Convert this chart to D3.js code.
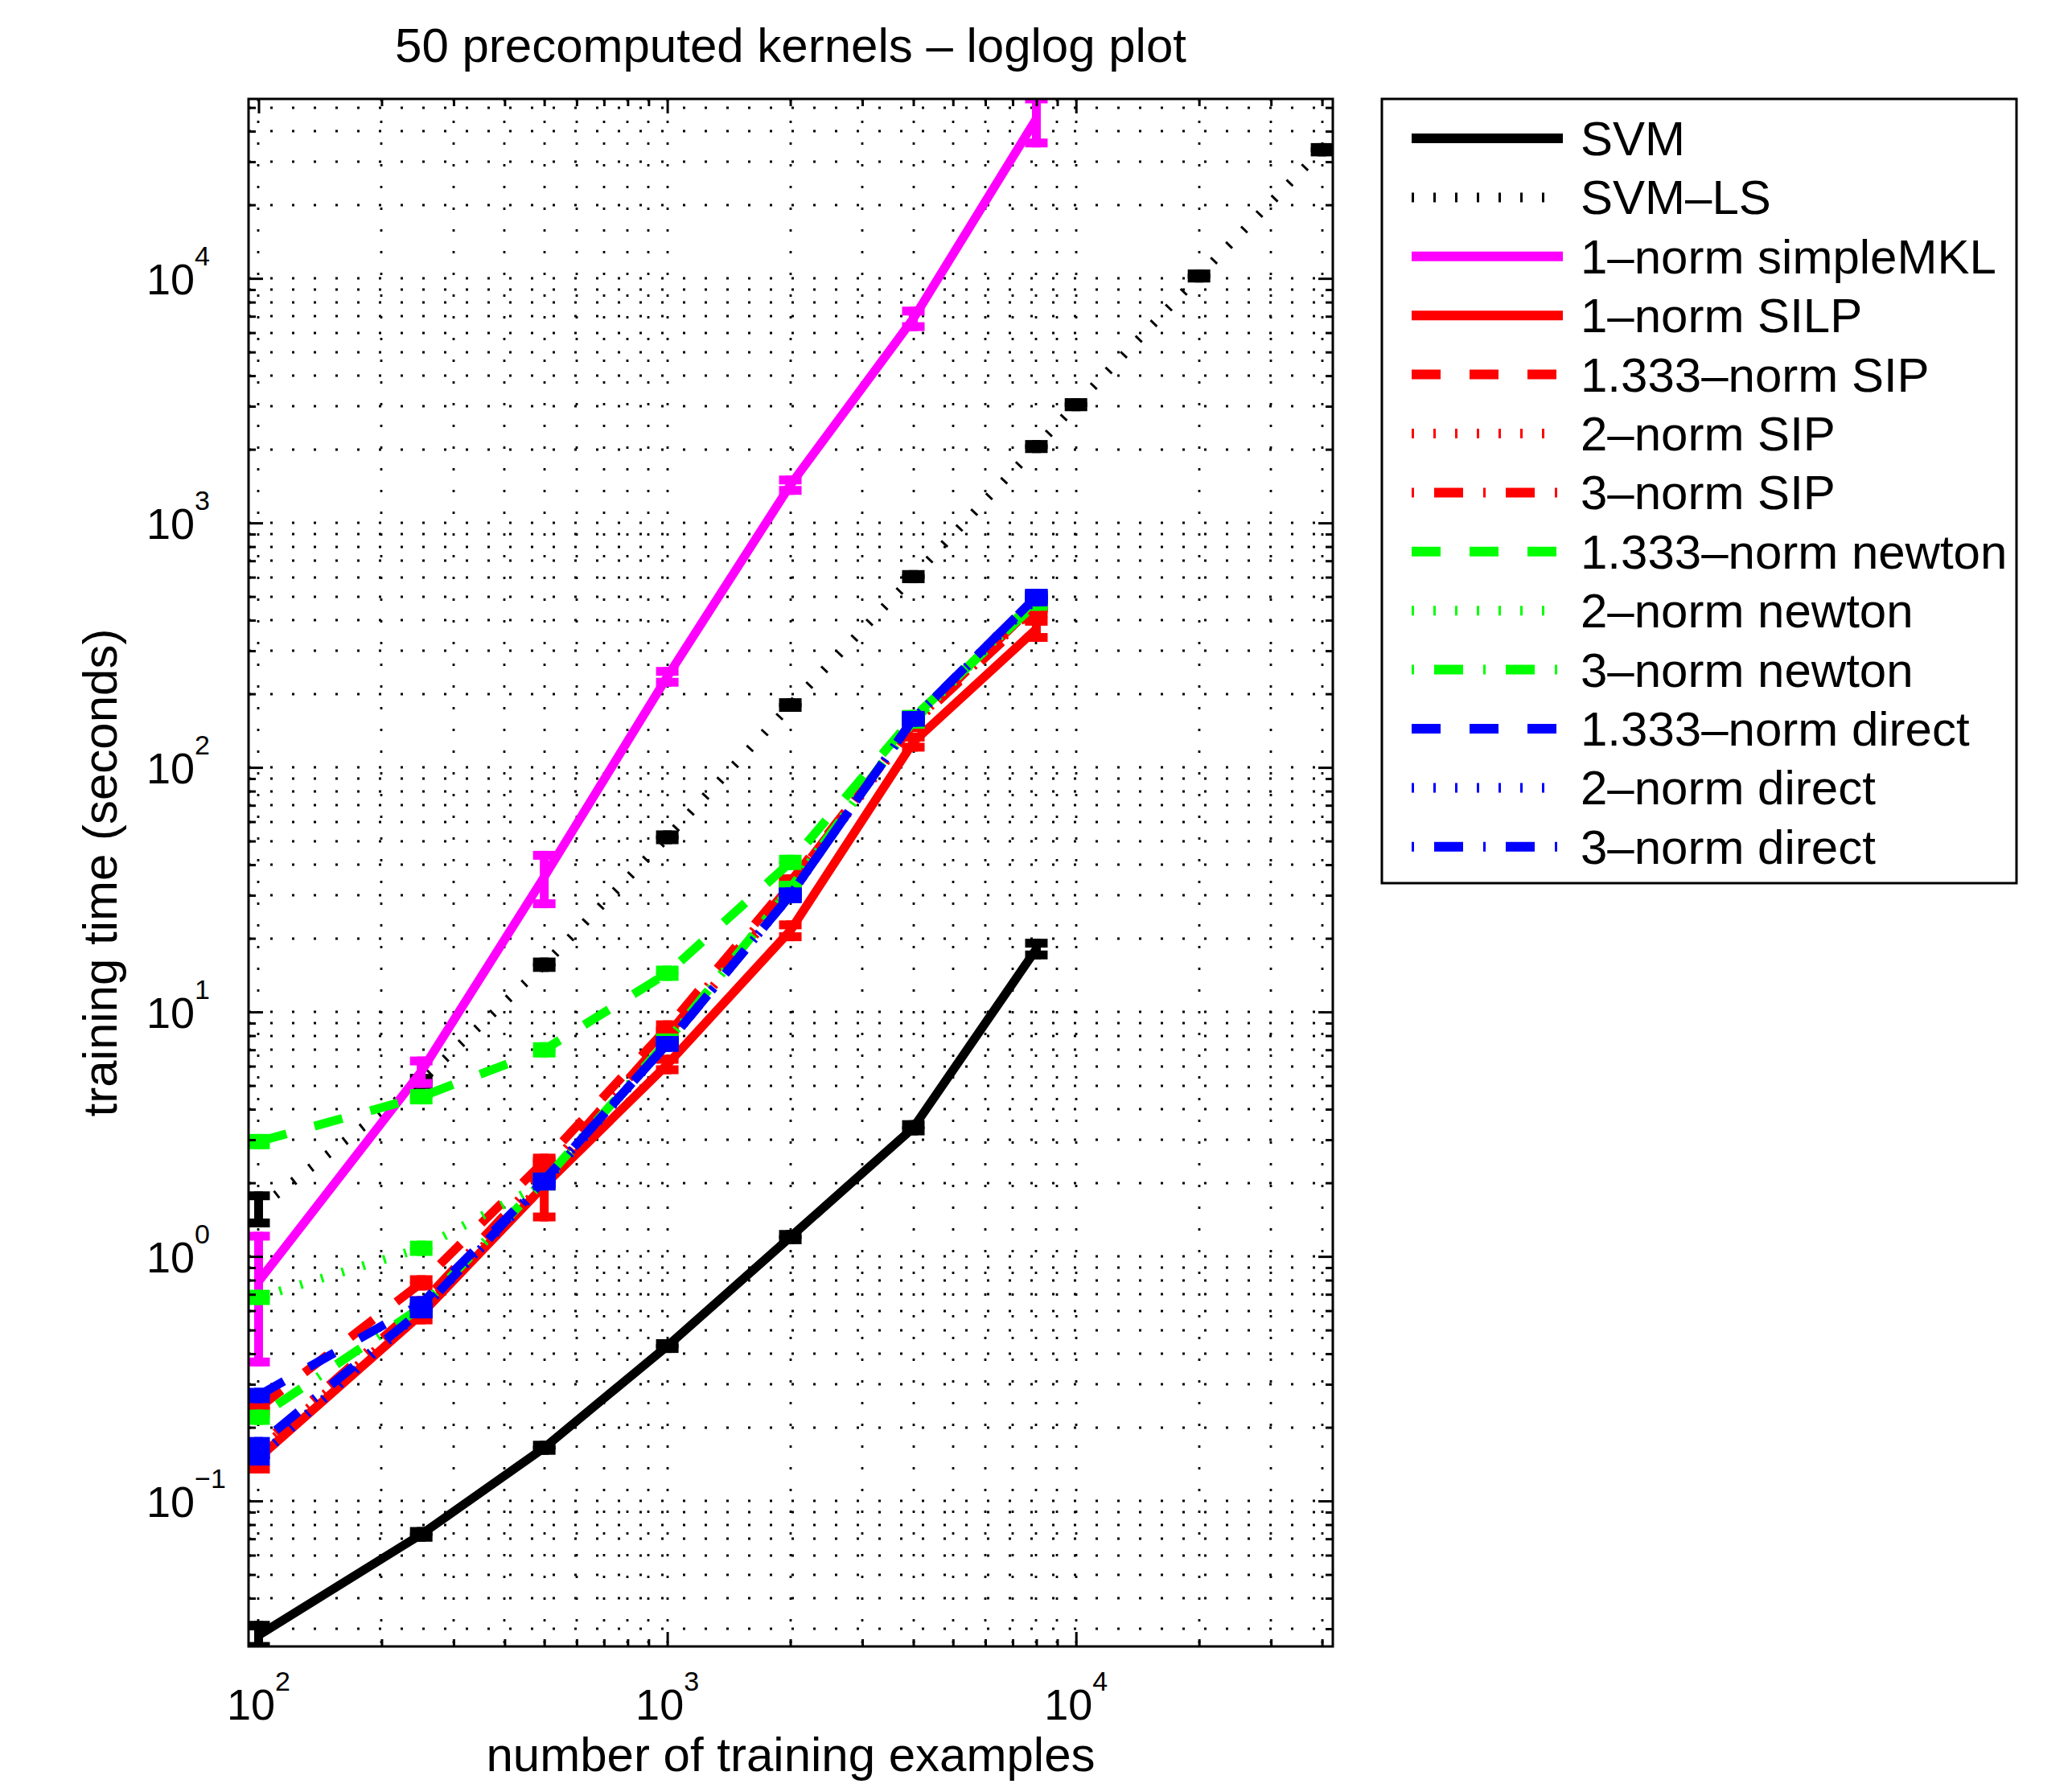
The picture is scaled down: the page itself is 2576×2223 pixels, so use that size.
<!DOCTYPE html>
<html>
<head>
<meta charset="utf-8">
<script src="https://cdn.jsdelivr.net/npm/d3@7"></script>
<style>
  body { margin: 0; background: #fff; }
  text { font-family: "Liberation Sans", Arial, Helvetica, sans-serif; fill: #000; }
</style>
</head>
<body>
<div id="chart"></div>
<script>
// training set sizes
var sizes = [100, 250, 500, 1000, 2000, 4000, 8000];
var sizesLS = [100, 250, 500, 1000, 2000, 4000, 8000, 10000, 20000, 40000];

// training times (seconds) and error bar half-lengths
var svm = [0.0282, 0.073, 0.165, 0.43, 1.2, 3.36, 18.1];
var svmErr = [0.0028, 0.002, 0.004, 0.01, 0.03, 0.1, 1.0];
var svmLS = [1.57, 5.2, 15.6, 51.8, 180, 603, 2053, 3045, 10230, 33600];
var svmLSErr = [0.2, 0.15, 0.4, 1.2, 4, 12, 40, 60, 200, 700];
var simpleMKL = [0.79, 5.7, 35.7, 235, 1428, 6850, 45000];
var simpleMKLErr = [0.42, 0.6, 8, 12, 70, 500, 9200];
var silp = [0.15, 0.58, 1.95, 6.1, 21.5, 127, 368];
var silpErr = [0.015, 0.03, 0.5, 0.3, 1.2, 6, 28];
var sip133 = [0.24, 0.78, 2.45, 8.6, 34, 150, 440];
var sip2 = [0.16, 0.6, 2.0, 7.5, 31, 150, 460];
var sip3 = [0.165, 0.64, 2.2, 8.0, 33, 152, 470];
var newton133 = [2.95, 4.5, 7.0, 14.4, 40.9, 160, 470];
var newton2 = [0.68, 1.08, 2.0, 7.5, 32, 155, 480];
var newton3 = [0.22, 0.62, 2.05, 7.6, 32, 155, 490];
var direct133 = [0.27, 0.64, 2.05, 7.4, 30, 158, 500];
var direct2 = [0.15, 0.6, 2.0, 7.4, 30, 158, 490];
var direct3 = [0.17, 0.6, 2.05, 7.4, 30, 158, 500];
var relErr = 0.03; // small spread on the MKL variants

var names = ["SVM", "SVM\u2013LS", "1\u2013norm simpleMKL", "1\u2013norm SILP",
  "1.333\u2013norm SIP", "2\u2013norm SIP", "3\u2013norm SIP",
  "1.333\u2013norm newton", "2\u2013norm newton", "3\u2013norm newton",
  "1.333\u2013norm direct", "2\u2013norm direct", "3\u2013norm direct"];

var xLim = [94.5, 42500];
var yLim = [0.0254, 54200];
var title = "50 precomputed kernels \u2013 loglog plot";
var xLabel = "number of training examples";
var yLabel = "training time (seconds)";

// line styles
var SOLID = null, DASH = "36,36", DOT = "3,24", DASHDOT = "3,25,36,25";
function rel(v) { return v.map(function(d) { return d * relErr; }); }

var series = [
  { name: names[0], color: "#000000", dash: SOLID, xs: sizes, ys: svm, err: svmErr },
  { name: names[1], color: "#000000", dash: DOT, xs: sizesLS, ys: svmLS, err: svmLSErr },
  { name: names[2], color: "#ff00ff", dash: SOLID, xs: sizes, ys: simpleMKL, err: simpleMKLErr },
  { name: names[3], color: "#ff0000", dash: SOLID, xs: sizes, ys: silp, err: silpErr },
  { name: names[4], color: "#ff0000", dash: DASH, xs: sizes, ys: sip133, err: rel(sip133) },
  { name: names[5], color: "#ff0000", dash: DOT, xs: sizes, ys: sip2, err: rel(sip2) },
  { name: names[6], color: "#ff0000", dash: DASHDOT, xs: sizes, ys: sip3, err: rel(sip3) },
  { name: names[7], color: "#00ff00", dash: DASH, xs: sizes, ys: newton133, err: rel(newton133) },
  { name: names[8], color: "#00ff00", dash: DOT, xs: sizes, ys: newton2, err: rel(newton2) },
  { name: names[9], color: "#00ff00", dash: DASHDOT, xs: sizes, ys: newton3, err: rel(newton3) },
  { name: names[10], color: "#0000ff", dash: DASH, xs: sizes, ys: direct133, err: rel(direct133) },
  { name: names[11], color: "#0000ff", dash: DOT, xs: sizes, ys: direct2, err: rel(direct2) },
  { name: names[12], color: "#0000ff", dash: DASHDOT, xs: sizes, ys: direct3, err: rel(direct3) }
];

var W = 2576, H = 2223;
var plot = { left: 309, right: 1657, top: 123, bottom: 2047 };
var lineW = 11, capHalf = 14;

var svg = d3.select("#chart").append("svg")
    .attr("width", W)
    .attr("height", H);

svg.append("rect").attr("width", W).attr("height", H).attr("fill", "#fff");

var x = d3.scaleLog().domain(xLim).range([plot.left, plot.right]);
var y = d3.scaleLog().domain(yLim).range([plot.bottom, plot.top]);

function isMajor(v) {
    var l = Math.log10(v);
    return Math.abs(l - Math.round(l)) < 1e-9;
}
var xTicks = x.ticks(), yTicks = y.ticks();
var xMajor = xTicks.filter(isMajor), xMinor = xTicks.filter(function(d) { return !isMajor(d); });
var yMajor = yTicks.filter(isMajor), yMinor = yTicks.filter(function(d) { return !isMajor(d); });

// dotted grid (major + minor)
var grid = svg.append("g")
    .attr("stroke", "#000")
    .attr("stroke-width", 2.8)
    .attr("stroke-dasharray", "3,24");
grid.selectAll("line.gx").data(xTicks).enter().append("line")
    .attr("x1", function(d) { return Math.round(x(d)); })
    .attr("x2", function(d) { return Math.round(x(d)); })
    .attr("y1", plot.top).attr("y2", plot.bottom);
grid.selectAll("line.gy").data(yTicks).enter().append("line")
    .attr("y1", function(d) { return Math.round(y(d)); })
    .attr("y2", function(d) { return Math.round(y(d)); })
    .attr("x1", plot.left).attr("x2", plot.right);

// data, clipped to the axes box
svg.append("clipPath").attr("id", "clip")
  .append("rect")
    .attr("x", plot.left).attr("y", plot.top)
    .attr("width", plot.right - plot.left)
    .attr("height", plot.bottom - plot.top);

var data = svg.append("g").attr("clip-path", "url(#clip)");

var line = d3.line()
    .x(function(d) { return x(d[0]); })
    .y(function(d) { return y(d[1]); });

series.forEach(function(s) {
    var pts = s.xs.map(function(v, i) { return [v, s.ys[i], s.err[i]]; });
    var g = data.append("g");

    g.append("path")
        .datum(pts)
        .attr("d", line)
        .attr("fill", "none")
        .attr("stroke", s.color)
        .attr("stroke-width", lineW)
        .attr("stroke-linejoin", "miter")
        .attr("stroke-dasharray", s.dash);

    // error bars
    var lo = function(d) { return y(Math.max(d[1] - d[2], yLim[0] * 0.5)); };
    var hi = function(d) { return y(d[1] + d[2]); };
    var eb = g.selectAll("g.eb").data(pts).enter().append("g")
        .attr("stroke", s.color)
        .attr("stroke-width", lineW);
    eb.append("line")
        .attr("x1", function(d) { return x(d[0]); })
        .attr("x2", function(d) { return x(d[0]); })
        .attr("y1", function(d) { return lo(d) + lineW / 2; })
        .attr("y2", function(d) { return hi(d) - lineW / 2; });
    eb.append("line")
        .attr("x1", function(d) { return x(d[0]) - capHalf; })
        .attr("x2", function(d) { return x(d[0]) + capHalf; })
        .attr("y1", hi)
        .attr("y2", hi);
    eb.append("line")
        .attr("x1", function(d) { return x(d[0]) - capHalf; })
        .attr("x2", function(d) { return x(d[0]) + capHalf; })
        .attr("y1", lo)
        .attr("y2", lo);
});

// ticks on all four sides, pointing inward
function tickGroup(axis, tx, ty) {
    var g = svg.append("g")
        .attr("transform", "translate(" + tx + "," + ty + ")")
        .call(axis);
    g.select(".domain").remove();
    g.selectAll("line").attr("stroke", "#000").attr("stroke-width", 3);
    g.selectAll("text").remove();
}
tickGroup(d3.axisBottom(x).tickValues(xMajor).tickSize(-18), 0, plot.bottom);
tickGroup(d3.axisBottom(x).tickValues(xMinor).tickSize(-9), 0, plot.bottom);
tickGroup(d3.axisTop(x).tickValues(xMajor).tickSize(-18), 0, plot.top);
tickGroup(d3.axisTop(x).tickValues(xMinor).tickSize(-9), 0, plot.top);
tickGroup(d3.axisLeft(y).tickValues(yMajor).tickSize(-18), plot.left, 0);
tickGroup(d3.axisLeft(y).tickValues(yMinor).tickSize(-9), plot.left, 0);
tickGroup(d3.axisRight(y).tickValues(yMajor).tickSize(-18), plot.right, 0);
tickGroup(d3.axisRight(y).tickValues(yMinor).tickSize(-9), plot.right, 0);

// axes box
svg.append("rect")
    .attr("x", plot.left).attr("y", plot.top)
    .attr("width", plot.right - plot.left)
    .attr("height", plot.bottom - plot.top)
    .attr("fill", "none")
    .attr("stroke", "#000")
    .attr("stroke-width", 3);

// power-of-ten tick labels
function expo(v) { return String(Math.round(Math.log10(v))).replace("-", "\u2212"); }

var xl = svg.selectAll("text.xt").data(xMajor).enter().append("text")
    .attr("class", "xt")
    .attr("x", function(d) { return x(d); })
    .attr("y", plot.bottom + 91)
    .attr("text-anchor", "middle")
    .style("font-size", "54px");
xl.append("tspan").text("10");
xl.append("tspan").attr("dy", -36).style("font-size", "34px").text(expo);

var yl = svg.selectAll("text.yt").data(yMajor).enter().append("text")
    .attr("class", "yt")
    .attr("x", 182)
    .attr("y", function(d) { return y(d) + 20; })
    .style("font-size", "54px");
yl.append("tspan").text("10");
yl.append("tspan").attr("dy", -36).style("font-size", "34px").text(expo);

// title and axis labels
svg.append("text")
    .attr("x", (plot.left + plot.right) / 2)
    .attr("y", 77)
    .attr("text-anchor", "middle")
    .style("font-size", "60px")
    .text(title);

svg.append("text")
    .attr("x", (plot.left + plot.right) / 2)
    .attr("y", 2202)
    .attr("text-anchor", "middle")
    .style("font-size", "60px")
    .text(xLabel);

svg.append("text")
    .attr("transform", "translate(145," + (plot.top + plot.bottom) / 2 + ") rotate(-90)")
    .attr("text-anchor", "middle")
    .style("font-size", "60px")
    .text(yLabel);

// legend
var leg = { left: 1718, top: 123, right: 2507, bottom: 1098, row0: 172, rowH: 73.4 };
svg.append("rect")
    .attr("x", leg.left).attr("y", leg.top)
    .attr("width", leg.right - leg.left)
    .attr("height", leg.bottom - leg.top)
    .attr("fill", "#fff")
    .attr("stroke", "#000")
    .attr("stroke-width", 3);

var rows = svg.selectAll("g.leg").data(series).enter().append("g")
    .attr("transform", function(d, i) { return "translate(0," + (leg.row0 + i * leg.rowH) + ")"; });
rows.append("line")
    .attr("x1", 1755).attr("x2", 1943)
    .attr("y1", 0).attr("y2", 0)
    .attr("stroke", function(d) { return d.color; })
    .attr("stroke-width", lineW + 1)
    .attr("stroke-dasharray", function(d) { return d.dash; });
rows.append("text")
    .attr("x", 1965)
    .attr("y", 21)
    .style("font-size", "60px")
    .text(function(d) { return d.name; });
</script>
</body>
</html>
